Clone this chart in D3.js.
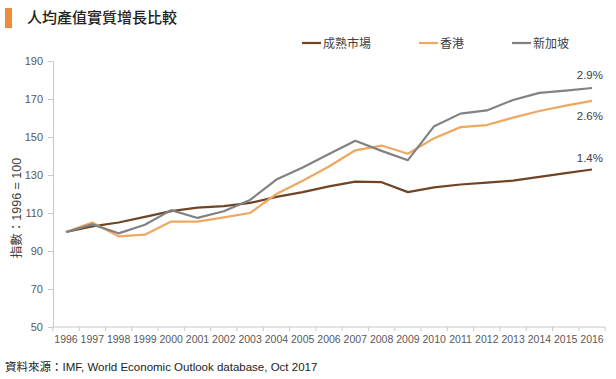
<!DOCTYPE html>
<html><head><meta charset="utf-8">
<script src="https://cdn.jsdelivr.net/npm/d3@7"></script>
<style>
body{margin:0;background:#fff;}
svg{display:block;}
</style></head>
<body>
<svg id="chart" width="616" height="379"></svg>
<script>
const years = ["1996","1997","1998","1999","2000","2001","2002","2003","2004","2005","2006","2007","2008","2009","2010","2011","2012","2013","2014","2015","2016"];
const mature = [100,103,105,108,111,112.8,113.6,115.3,118.5,121,124,126.5,126.2,121,123.5,125,126,127,129,131,132.9];
const hongkong = [100,105,97.7,98.6,105.5,105.5,107.7,110,120,127,134.5,143,145.5,141.2,149.4,155.2,156.3,160.2,163.7,166.5,169];
const singapore = [100,104,99.3,103.8,111.5,107.4,110.9,116.9,127.6,134,141,148,142.7,137.8,155.7,162.3,164,169.5,173.2,174.4,175.8];
const seriesNames = ["成熟市場","香港","新加坡"];
const yTicks = [50,70,90,110,130,150,170,190];
const endLabels = ["1.4%","2.6%","2.9%"];
const title = "人均產值實質增長比較";
const yLabel = "指數：1996 = 100";
const source = "資料來源：IMF, World Economic Outlook database, Oct 2017";

const colors = ["#6f4526","#eea861","#808285"];
const svg = d3.select("#chart");
const font = "'Liberation Sans', Arial, 'Noto Sans CJK TC', sans-serif";

// title
svg.append("rect").attr("x",5).attr("y",8).attr("width",7).attr("height",20).attr("fill","#ee8c3a");
svg.append("text").attr("x",27).attr("y",23).text(title)
  .attr("font-family","'Noto Sans CJK TC', sans-serif").attr("font-size",15).attr("font-weight",500).attr("fill","#222");

const x = d3.scalePoint().domain(years).range([66,592]);
const y = d3.scaleLinear().domain([50,190]).range([327,61]);

// y axis
const yAxis = svg.append("g").attr("transform","translate(53,0)")
  .call(d3.axisLeft(y).tickValues(yTicks).tickSize(5).tickSizeOuter(0));
yAxis.select(".domain").attr("stroke","#c8c8c8");
yAxis.selectAll(".tick line").attr("stroke","#c8c8c8");
yAxis.selectAll(".tick text").attr("font-family",font).attr("font-size",11).attr("fill","#595959").attr("dx",-2);

// x axis (category axis, ticks between categories)
const step = x.step();
const xb = d3.scaleLinear().domain([0,years.length]).range([66-step/2,592+step/2]);
const xg = svg.append("g").attr("transform","translate(0,327)");
xg.append("line").attr("x1",xb(0)).attr("x2",xb(years.length)).attr("stroke","#c8c8c8");
xg.selectAll("line.t").data(d3.range(years.length+1)).join("line").attr("class","t")
  .attr("x1",d=>xb(d)).attr("x2",d=>xb(d)).attr("y1",0).attr("y2",4).attr("stroke","#c8c8c8");
xg.selectAll("text").data(years).join("text")
  .attr("x",d=>x(d)).attr("y",16).attr("text-anchor","middle").text(d=>d)
  .attr("font-family",font).attr("font-size",10.5).attr("fill","#595959");

// y label
svg.append("text").attr("transform","translate(21,208) rotate(-90)").attr("text-anchor","middle")
  .text(yLabel).attr("font-family",font).attr("font-size",12.5).attr("fill","#404040");

// lines
const data = [mature,hongkong,singapore];
const line = d3.line().x((d,i)=>x(years[i])).y(d=>y(d));
data.forEach((s,k)=>{
  svg.append("path").datum(s).attr("d",line).attr("fill","none")
    .attr("stroke",colors[k]).attr("stroke-width",2.2).attr("stroke-linejoin","round");
});

// end labels
svg.append("text").attr("x",603).attr("y",y(mature[20])-7).attr("text-anchor","end").text(endLabels[0])
  .attr("font-family",font).attr("font-size",11.5).attr("fill","#404040");
svg.append("text").attr("x",603).attr("y",y(hongkong[20])+19).attr("text-anchor","end").text(endLabels[1])
  .attr("font-family",font).attr("font-size",11.5).attr("fill","#404040");
svg.append("text").attr("x",603).attr("y",y(singapore[20])-9).attr("text-anchor","end").text(endLabels[2])
  .attr("font-family",font).attr("font-size",11.5).attr("fill","#404040");

// legend
const legX = [302,419,512];
seriesNames.forEach((n,k)=>{
  svg.append("line").attr("x1",legX[k]).attr("x2",legX[k]+19).attr("y1",43).attr("y2",43)
    .attr("stroke",colors[k]).attr("stroke-width",2.2);
  svg.append("text").attr("x",legX[k]+21).attr("y",47.5).text(n)
    .attr("font-family",font).attr("font-size",12).attr("fill","#404040");
});

// source
svg.append("text").attr("x",5).attr("y",371).text(source)
  .attr("font-family",font).attr("font-size",11.5).attr("fill","#222");
</script>
</body></html>
